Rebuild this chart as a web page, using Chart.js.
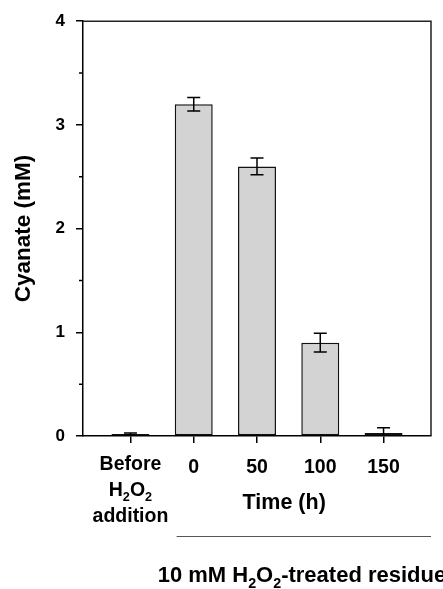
<!DOCTYPE html>
<html><head><meta charset="utf-8">
<script src="https://cdn.jsdelivr.net/npm/chart.js@4.4.0/dist/chart.umd.min.js"></script>
<style>html,body{margin:0;padding:0;background:#fff;}canvas{display:block;}</style>
</head><body>
<canvas id="c" width="443" height="589"></canvas>
<script>
// ---- data ----
const categories = ['Before H2O2 addition', '0', '50', '100', '150'];
const positions = [0, 1, 2, 3, 4];
const cyanate = [0.02, 3.20, 2.60, 0.90, 0.03];
const cyanateErr = [0.01, 0.065, 0.08, 0.09, 0.05];
const yTicks = [0, 1, 2, 3, 4];
const yMinorTicks = [0.5, 1.5, 2.5, 3.5];
const yTitle = 'Cyanate (mM)';
const xTitle = 'Time (h)';
const firstLabel = [[['Before', 0]], [['H', 0], ['2', 1], ['O', 0], ['2', 1]], [['addition', 0]]];
const groupLabel = [['10 mM H', 0], ['2', 1], ['O', 0], ['2', 1], ['-treated residue', 0]];

const FONT = '"Liberation Sans", Arial, Helvetica, sans-serif';

function drawRich(ctx, parts, x, y, size, align) {
  const main = 'bold ' + size + 'px ' + FONT;
  const sub = 'bold ' + (size * 0.65) + 'px ' + FONT;
  let w = 0;
  parts.forEach(([t, s]) => { ctx.font = s ? sub : main; w += ctx.measureText(t).width; });
  let cx = align === 'center' ? x - w / 2 : x;
  ctx.textAlign = 'left';
  ctx.textBaseline = 'alphabetic';
  ctx.fillStyle = '#000';
  parts.forEach(([t, s]) => {
    ctx.font = s ? sub : main;
    ctx.fillText(t, cx, s ? y + size * 0.28 : y);
    cx += ctx.measureText(t).width;
  });
}

const deco = {
  id: 'deco',
  afterDatasetsDraw(chart) {
    const { ctx, chartArea: a, scales: { x, y } } = chart;
    ctx.save();
    ctx.beginPath();
    ctx.rect(a.left, a.top, a.right - a.left, a.bottom - a.top);
    ctx.clip();
    ctx.strokeStyle = '#000';
    ctx.lineWidth = 1.5;
    const cap = 6.5;
    positions.forEach((p, i) => {
      const px = x.getPixelForValue(p);
      const hi = y.getPixelForValue(cyanate[i] + cyanateErr[i]);
      const lo = y.getPixelForValue(cyanate[i] - cyanateErr[i]);
      ctx.beginPath();
      ctx.moveTo(px, hi); ctx.lineTo(px, lo);
      ctx.moveTo(px - cap, hi); ctx.lineTo(px + cap, hi);
      ctx.moveTo(px - cap, lo); ctx.lineTo(px + cap, lo);
      ctx.stroke();
    });
    ctx.restore();
  },
  afterDraw(chart) {
    const { ctx, chartArea: a, scales: { x, y } } = chart;
    ctx.save();
    // frame top & right
    ctx.strokeStyle = '#222';
    ctx.lineWidth = 1.5;
    ctx.beginPath();
    ctx.moveTo(a.left, a.top); ctx.lineTo(a.right, a.top); ctx.lineTo(a.right, a.bottom);
    ctx.stroke();
    // minor y ticks
    ctx.strokeStyle = '#000';
    ctx.beginPath();
    yMinorTicks.forEach(v => {
      const py = y.getPixelForValue(v);
      ctx.moveTo(a.left - 4, py); ctx.lineTo(a.left, py);
    });
    ctx.stroke();
    // first category label (multi-line with subscripts)
    const fx = x.getPixelForValue(positions[0]);
    firstLabel.forEach((line, k) => drawRich(ctx, line, fx, a.bottom + 33.5 + k * 26, 19.5, 'center'));
    // x title
    const tx = x.getPixelForValue(2.43);
    drawRich(ctx, [[xTitle, 0]], tx, a.bottom + 73, 21.5, 'center');
    // group line
    ctx.strokeStyle = '#555';
    ctx.lineWidth = 1;
    ctx.beginPath();
    ctx.moveTo(x.getPixelForValue(0.73), a.bottom + 100.5);
    ctx.lineTo(a.right, a.bottom + 100.5);
    ctx.stroke();
    // group label
    drawRich(ctx, groupLabel, x.getPixelForValue(0.43), a.bottom + 146, 22, 'left');
    ctx.restore();
  }
};

new Chart(document.getElementById('c'), {
  type: 'bar',
  data: {
    datasets: [{
      data: positions.map((p, i) => ({ x: p, y: cyanate[i] })),
      backgroundColor: '#d3d3d3',
      borderColor: '#111',
      borderWidth: 1.5,
      borderSkipped: false,
      barPercentage: 0.6,
      categoryPercentage: 1
    }]
  },
  options: {
    responsive: false,
    animation: false,
    devicePixelRatio: 1,
    layout: { padding: { left: 0, right: 12, top: 21, bottom: 0 } },
    plugins: { legend: { display: false }, tooltip: { enabled: false } },
    scales: {
      x: {
        type: 'linear',
        min: -0.75, max: 4.75,
        offset: false,
        afterBuildTicks: s => { s.ticks = positions.map(v => ({ value: v })); },
        afterFit: s => { s.height = 153; },
        ticks: {
          autoSkip: false, maxRotation: 0,
          callback: v => { const i = positions.indexOf(v); return i > 0 ? categories[i] : ''; },
          font: { family: FONT, size: 19.5, weight: 'bold' },
          color: '#000',
          padding: 13
        },
        grid: { offset: false, drawOnChartArea: false, drawTicks: true, tickLength: 7, color: '#000', lineWidth: 1.5 },
        border: { display: true, color: '#000', width: 1.5 }
      },
      y: {
        min: 0, max: 4,
        afterBuildTicks: s => { s.ticks = yTicks.map(v => ({ value: v })); },
        afterFit: s => { s.width = 83; },
        ticks: { font: { family: FONT, size: 17, weight: 'bold' }, color: '#000', padding: 11 },
        grid: { drawOnChartArea: false, drawTicks: true, tickLength: 7, color: '#000', lineWidth: 1.5 },
        border: { display: true, color: '#000', width: 1.5 },
        title: { display: true, text: yTitle, font: { family: FONT, size: 22.5, weight: 'bold' }, color: '#000', padding: { top: 10, bottom: 0 } }
      }
    }
  },
  plugins: [deco]
});
</script>
</body></html>
